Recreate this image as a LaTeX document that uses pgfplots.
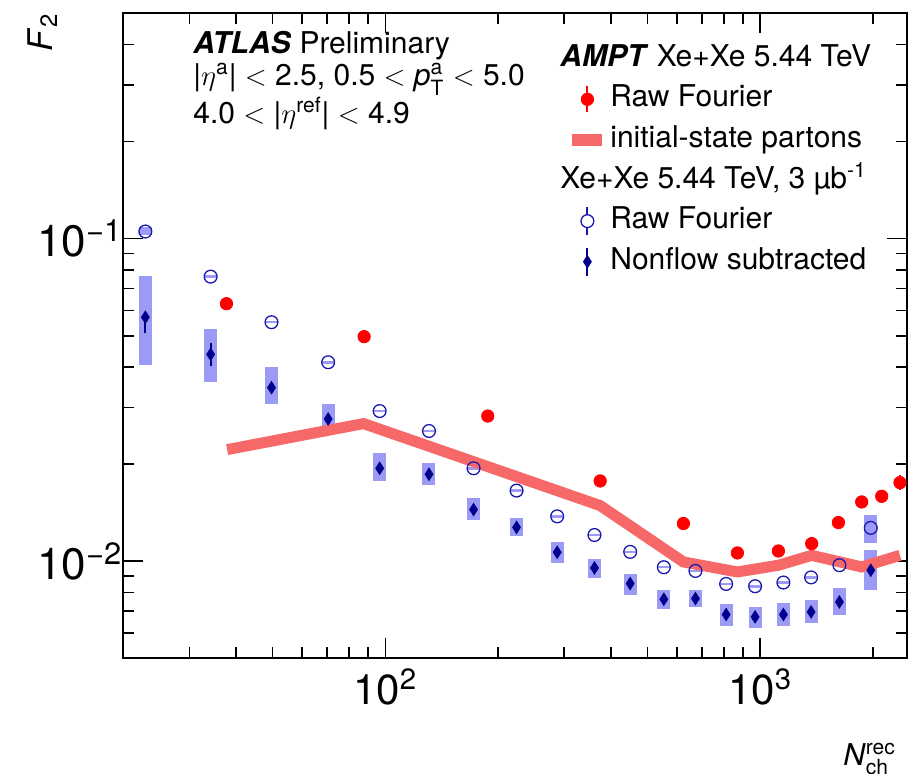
\documentclass[border=0pt]{standalone}
\usepackage{fontspec}
\setmainfont{TeX Gyre Heros}
\usepackage{amsmath}
\usepackage{pgfplots}
\usepackage{pgfplotstable}
\pgfplotsset{compat=1.18}

\definecolor{boxblue}{RGB}{155,155,245}
\definecolor{navy}{RGB}{0,0,140}
\definecolor{cblue}{RGB}{25,25,175}
\definecolor{ampt}{RGB}{247,104,104}
\definecolor{rawred}{RGB}{255,0,0}

\pgfplotsset{
  legred/.style={legend image code/.code={\draw[rawred,line width=1pt] (7.5pt,-6.5pt) -- (7.5pt,6.5pt); \draw[##1] plot coordinates {(7.5pt,0pt)};}},
  legline/.style={legend image code/.code={\draw[##1] (0pt,0pt) -- (15pt,0pt);}},
  legcirc/.style={legend image code/.code={\draw[cblue,line width=1pt] (7.5pt,-7pt) -- (7.5pt,-3.2pt) (7.5pt,3.2pt) -- (7.5pt,7pt); \draw[##1] plot coordinates {(7.5pt,0pt)};}},
  legdiam/.style={legend image code/.code={\draw[navy,line width=1pt] (7.5pt,-7pt) -- (7.5pt,7pt); \draw[##1] plot coordinates {(7.5pt,0pt)};}},
  boxbars/.style={forget plot, draw=none, mark=none,
    error bars/.cd, y dir=both, y explicit, error mark=none,
    error bar style={line width=6.5pt, draw=boxblue, solid}},
}

\pgfplotstableread{
x y ep em
37.7 0.0629 0 0
87.8 0.0497 0 0
187.7 0.0282 0 0
374.4 0.01774 0 0
624.3 0.01309 0 0
869.8 0.01061 0 0
1119 0.01076 0 0
1373 0.01134 0 0
1618 0.01318 0 0
1867 0.01527 0 0
2111 0.01590 0 0
2362 0.01753 0.0010 0.0009
}\amptraw

\pgfplotstableread{
x y
37.85 0.02219
87.5 0.02672
374.4 0.01488
624.3 0.00995
869.8 0.009264
1119 0.009718
1373 0.01043
1867 0.009601
2362 0.01043
}\amptline

\pgfplotstableread{
x y lo hi
22.9 0.1053 0.1025 0.1085
34.2 0.0763 0.0756 0.0770
49.7 0.0551 0.0546 0.0556
70.4 0.0414 0.0410 0.0418
96.6 0.02922 0.02897 0.02947
130.8 0.02534 0.02512 0.02556
172 0.01942 0.01925 0.01959
224 0.01656 0.01642 0.01670
287.5 0.01378 0.01366 0.01390
361.5 0.01206 0.01196 0.01216
450.2 0.01069 0.01060 0.01078
553.6 0.009581 0.00950 0.00966
672.3 0.009331 0.00925 0.00941
811.7 0.008504 0.00843 0.00858
969.8 0.008366 0.00829 0.00844
1154 0.00859 0.00852 0.00866
1368 0.00891 0.00883 0.00899
1628 0.00972 0.00964 0.00980
1974 0.01269 0.01143 0.01388
}\xeraw

\pgfplotstableread{
x y lo hi elo ehi
22.9 0.0571 0.0405 0.0766 0.0511 0.0592
34.2 0.0438 0.0359 0.0526 0.0403 0.0474
49.7 0.03453 0.03066 0.0400 0.0335 0.0356
70.4 0.02761 0.02474 0.03081 0.0270 0.0282
96.6 0.01942 0.0177 0.02166 0.01942 0.01942
130.8 0.01861 0.01719 0.02012 0.01861 0.01861
172 0.01446 0.01347 0.01567 0.01446 0.01446
224 0.01274 0.01201 0.01359 0.01274 0.01274
287.5 0.01066 0.00988 0.01147 0.01066 0.01066
361.5 0.009532 0.00888 0.01019 0.009532 0.009532
450.2 0.008528 0.00784 0.00911 0.008528 0.008528
553.6 0.007624 0.007086 0.008172 0.007624 0.007624
672.3 0.007662 0.007188 0.00813 0.007662 0.007662
811.7 0.006836 0.006302 0.007343 0.006836 0.006836
969.8 0.006720 0.006231 0.007219 0.006720 0.006720
1154 0.006836 0.006302 0.007447 0.006836 0.006836
1368 0.006965 0.006457 0.007569 0.006965 0.006965
1628 0.007478 0.006804 0.008289 0.007478 0.007478
1974 0.009378 0.008172 0.01082 0.009378 0.009378
}\xesub

\begin{document}
\begin{tikzpicture}
\begin{axis}[name=ax,
  xmode=log, ymode=log,
  scale only axis, width=391.85pt, height=322.5pt,
  xmin=20, xmax=2466, ymin=0.005, ymax=0.5,
  xtick={100,1000}, xticklabels={10\textsuperscript{2},10\textsuperscript{3}},
  ytick={0.01,0.1}, yticklabels={10\textsuperscript{−2},10\textsuperscript{−1}},
  minor xtick={30,40,50,60,70,80,90,200,300,400,500,600,700,800,900,2000},
  minor ytick={0.006,0.007,0.008,0.009,0.02,0.03,0.04,0.05,0.06,0.07,0.08,0.09,0.2,0.3,0.4},
  major tick length=10pt, minor tick length=5.5pt,
  tick style={line width=0.75pt, black},
  axis line style={line width=1pt},
  xticklabel style={font=\fontsize{21}{24}\selectfont, yshift=-1.5pt},
  yticklabel style={font=\fontsize{22}{26}\selectfont, xshift=3pt},
  legend cell align=left,
  legend style={at={(rel axis cs:0.5572,0.962)}, anchor=north west, draw=none, fill=none,
    font=\fontsize{15}{18}\selectfont, row sep=3.8pt, column sep=0pt,
    nodes={inner sep=1pt, text height=11pt, text depth=3.5pt}},
]
% systematic boxes
\addplot[boxbars]
  table[x=x, y=y, y error plus expr=\thisrow{hi}-\thisrow{y}, y error minus expr=\thisrow{y}-\thisrow{lo}] {\xeraw};
\addplot[boxbars]
  table[x=x, y=y, y error plus expr=\thisrow{hi}-\thisrow{y}, y error minus expr=\thisrow{y}-\thisrow{lo}] {\xesub};
% open circles
\addplot[forget plot, only marks, mark=o, mark size=3.2pt, cblue, mark options={line width=0.65pt}]
  table[x=x, y=y] {\xeraw};
% AMPT initial-state partons
\addplot[forget plot, ampt, line width=5.5pt, line join=miter] table[x=x, y=y] {\amptline};
% nonflow subtracted
\addplot[forget plot, only marks, mark=diamond*, mark size=3.1pt, navy, mark options={xscale=0.85},
  error bars/.cd, y dir=both, y explicit, error mark=none,
  error bar style={line width=1pt, color=navy}]
  table[x=x, y=y, y error plus expr=\thisrow{ehi}-\thisrow{y}, y error minus expr=\thisrow{y}-\thisrow{elo}] {\xesub};
% AMPT raw Fourier
\addplot[forget plot, only marks, mark=*, mark size=3.1pt, rawred,
  error bars/.cd, y dir=both, y explicit, error mark=none,
  error bar style={line width=1pt, color=rawred}]
  table[x=x, y=y, y error plus=ep, y error minus=em] {\amptraw};

% legend
\addlegendimage{empty legend}
\addlegendentry{\hspace{-25pt}\textbf{\textit{AMPT}} Xe+Xe 5.44 TeV}
\addlegendimage{rawred, mark=*, mark size=3.1pt, legred}
\addlegendentry{Raw Fourier}
\addlegendimage{ampt, line width=6pt, legline}
\addlegendentry{initial-state partons}
\addlegendimage{empty legend}
\addlegendentry{\hspace{-25pt}Xe+Xe 5.44 TeV, 3 µb\textsuperscript{-1}}
\addlegendimage{cblue, mark=o, mark size=3.2pt, mark options={line width=0.65pt}, legcirc}
\addlegendentry{Raw Fourier}
\addlegendimage{navy, mark=diamond*, mark size=3.1pt, mark options={xscale=0.85}, legdiam}
\addlegendentry{Nonflow subtracted}

% info text
\node[anchor=base west, inner sep=0pt, font=\fontsize{15}{18}\selectfont] at (rel axis cs:0.0889,0.938) {\textbf{\textit{ATLAS}} Preliminary};
\node[anchor=base west, inner sep=0pt, font=\fontsize{15}{18}\selectfont] at (rel axis cs:0.0889,0.8884) {|$\eta^{\text{a}}$| $<$ 2.5, 0.5 $<$ \textit{p}$^{\text{a}}_{\text{T}}$ $<$ 5.0};
\node[anchor=base west, inner sep=0pt, font=\fontsize{15}{18}\selectfont] at (rel axis cs:0.0889,0.8295) {4.0 $<$ |$\eta^{\text{ref}}$| $<$ 4.9};
\end{axis}
\node[anchor=base west, inner sep=0pt, font=\fontsize{15}{18}\selectfont] at ([shift={(359.85pt,-53.35pt)}]ax.south west) {\textit{N}$^{\text{rec}}_{\text{ch}}$};
\node[rotate=90, anchor=base east, inner sep=0pt, font=\fontsize{17}{20}\selectfont] at ([shift={(-35.65pt,0pt)}]ax.north west) {\textit{F}$_{\text{2}}$};
\pgfresetboundingbox
\path[use as bounding box] ([shift={(-61.65pt,-57.35pt)}]ax.south west) rectangle ([shift={(0.5pt,6.65pt)}]ax.north east);
\end{tikzpicture}
\end{document}
